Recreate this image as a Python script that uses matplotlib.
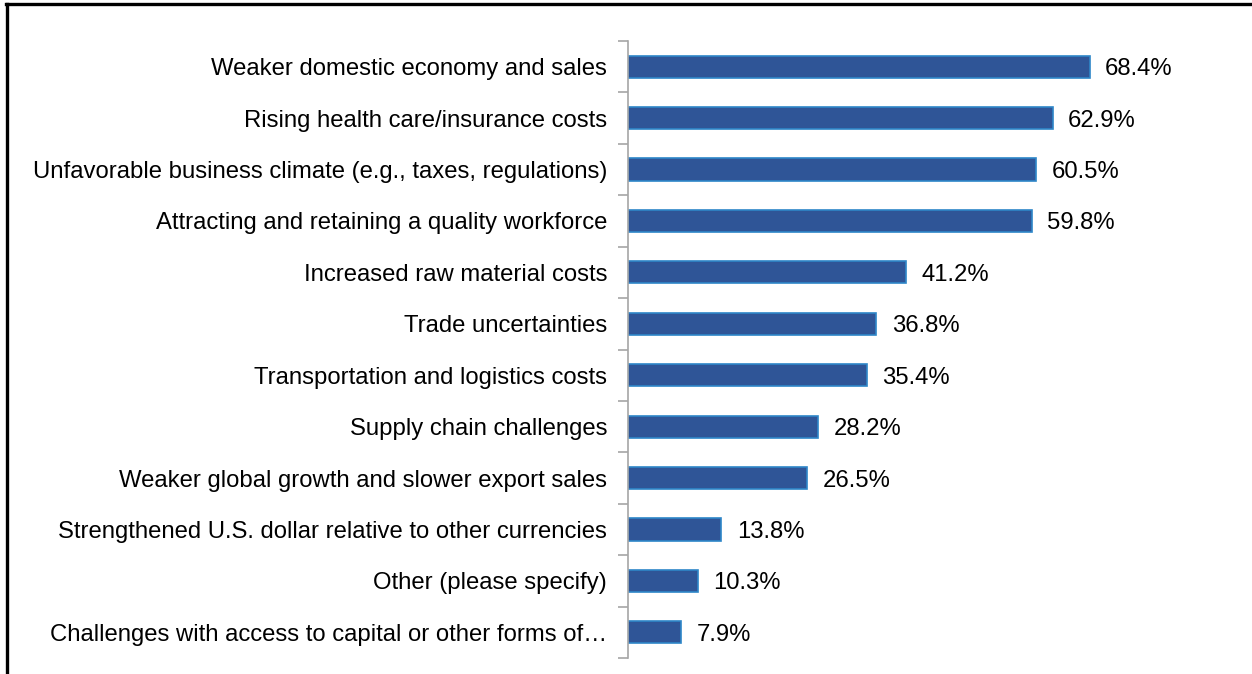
import numpy as np
import matplotlib
matplotlib.use('Agg')
from matplotlib import pyplot as plt
from matplotlib.lines import Line2D

plt.rcParams['font.family'] = ['Liberation Sans', 'DejaVu Sans']

categories = [
    'Weaker domestic economy and sales',
    'Rising health care/insurance costs',
    'Unfavorable business climate (e.g., taxes, regulations)',
    'Attracting and retaining a quality workforce',
    'Increased raw material costs',
    'Trade uncertainties',
    'Transportation and logistics costs',
    'Supply chain challenges',
    'Weaker global growth and slower export sales',
    'Strengthened U.S. dollar relative to other currencies',
    'Other (please specify)',
    'Challenges with access to capital or other forms of\u2026',
]
shares = [68.4, 62.9, 60.5, 59.8, 41.2, 36.8, 35.4, 28.2, 26.5, 13.8, 10.3, 7.9]

W, H = 1252, 674
fig = plt.figure(figsize=(W / 100, H / 100), dpi=100)
ax = fig.add_axes([628 / W, (H - 658) / H, 540 / W, 617 / H])

y = np.arange(len(categories))
ax.barh(y, shares, height=0.43, color='#2F5597', edgecolor='#2E86C8', linewidth=1.2)
for yi, v in zip(y, shares):
    ax.text(v + 2.3, yi, f'{v:.1f}%', va='center_baseline', ha='left', fontsize=17.2)

ax.set_xlim(0, 80)
ax.set_ylim(len(categories) - 0.5, -0.5)
ax.set_xticks([])
# separators between categories as major ticks, names on minor ticks
ax.set_yticks(np.arange(len(categories) + 1) - 0.5)
ax.set_yticklabels([])
ax.set_yticks(y, minor=True)
ax.set_yticklabels(categories, minor=True, fontsize=17.2)
ax.tick_params(axis='y', which='major', length=7, color='#A6A6A6', width=1.2)
ax.tick_params(axis='y', which='minor', length=0, pad=15)
for s in ['top', 'right', 'bottom']:
    ax.spines[s].set_visible(False)
ax.spines['left'].set_color('#A6A6A6')
ax.spines['left'].set_linewidth(1.2)

# outer frame
fig.add_artist(Line2D([6.5 / W, 6.5 / W], [0, (H - 3.5) / H], transform=fig.transFigure, color='black', lw=2.4))
fig.add_artist(Line2D([5.5 / W, 1], [(H - 3.5) / H, (H - 3.5) / H], transform=fig.transFigure, color='black', lw=2.4))

fig.savefig('out.png', dpi=100)
